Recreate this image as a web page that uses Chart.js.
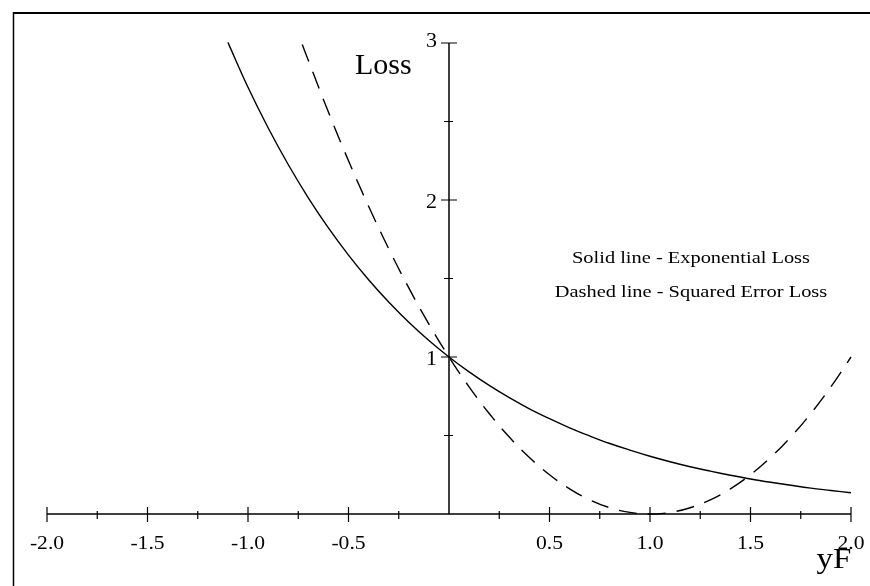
<!DOCTYPE html>
<html>
<head>
<meta charset="utf-8">
<title>Loss functions</title>
<script src="https://cdn.jsdelivr.net/npm/chart.js@4/dist/chart.umd.min.js"></script>
<style>
    body { margin: 0; background: #fff; }
    #wrap { width: 870px; height: 586px; }
</style>
</head>
<body>
<div id="wrap"><canvas id="lossChart" width="870" height="586"></canvas></div>
<script>
/*******************  Data *********************/
const expX = [-1.1, -1.0, -0.9, -0.8, -0.7, -0.6, -0.5, -0.4, -0.3, -0.2, -0.1, 0.0,
              0.1, 0.2, 0.3, 0.4, 0.5, 0.6, 0.7, 0.8, 0.9, 1.0,
              1.1, 1.2, 1.3, 1.4, 1.5, 1.6, 1.7, 1.8, 1.9, 2.0];
const expLoss = [3.004, 2.718, 2.460, 2.226, 2.014, 1.822, 1.649, 1.492, 1.350, 1.221, 1.105, 1.000,
                 0.905, 0.819, 0.741, 0.670, 0.607, 0.549, 0.497, 0.449, 0.407, 0.368,
                 0.333, 0.301, 0.273, 0.247, 0.223, 0.202, 0.183, 0.165, 0.150, 0.135];

const sqX = [-0.73, -0.7, -0.6, -0.5, -0.4, -0.3, -0.2, -0.1, 0.0,
             0.1, 0.2, 0.3, 0.4, 0.5, 0.6, 0.7, 0.8, 0.9, 1.0,
             1.1, 1.2, 1.3, 1.4, 1.5, 1.6, 1.7, 1.8, 1.9, 2.0];
const sqLoss = [2.99, 2.89, 2.56, 2.25, 1.96, 1.69, 1.44, 1.21, 1.00,
                0.81, 0.64, 0.49, 0.36, 0.25, 0.16, 0.09, 0.04, 0.01, 0.00,
                0.01, 0.04, 0.09, 0.16, 0.25, 0.36, 0.49, 0.64, 0.81, 1.00];

const xTickLabels = ['-2.0', '-1.5', '-1.0', '-0.5', '0.5', '1.0', '1.5', '2.0'];
const xMajor = [-2.0, -1.5, -1.0, -0.5, 0.5, 1.0, 1.5, 2.0];
const xMinor = [-1.75, -1.25, -0.75, -0.25, 0.25, 0.75, 1.25, 1.75];
const yTickLabels = ['1', '2', '3'];
const yMajor = [1, 2, 3];
const yMinor = [0.5, 1.5, 2.5];

const notes = ['Solid line - Exponential Loss', 'Dashed line - Squared Error Loss'];

/*******************  helpers *********************/
const serif = '"Liberation Serif", "Times New Roman", serif';

function toPoints(xs, ys) {
    return xs.map((x, i) => ({ x: x, y: ys[i] }));
}

// canvas text, stretched sideways a bit like the original
function wideText(ctx, text, x, y, size, stretch, align) {
    ctx.save();
    ctx.font = size + 'px ' + serif;
    ctx.textAlign = align;
    ctx.textBaseline = 'alphabetic';
    ctx.translate(x, y);
    ctx.scale(stretch, 1);
    ctx.fillText(text, 0, 0);
    ctx.restore();
}

/*******************  axes + text plugin *********************/
const crossAxes = {
    id: 'crossAxes',
    beforeDatasetsDraw(chart) {
        const ctx = chart.ctx;
        const xs = chart.scales.x;
        const ys = chart.scales.y;
        const x0 = xs.getPixelForValue(0);
        const y0 = ys.getPixelForValue(0);

        ctx.save();
        ctx.strokeStyle = '#000';

        // frame (top + left only)
        ctx.lineWidth = 2;
        ctx.beginPath();
        ctx.moveTo(13, 13);
        ctx.lineTo(870, 13);
        ctx.stroke();
        ctx.lineWidth = 1.5;
        ctx.beginPath();
        ctx.moveTo(13.5, 12);
        ctx.lineTo(13.5, 586);
        ctx.stroke();

        // axes
        ctx.lineWidth = 1.5;
        ctx.beginPath();
        ctx.moveTo(xs.getPixelForValue(-2), y0);
        ctx.lineTo(xs.getPixelForValue(2), y0);
        ctx.moveTo(x0, y0);
        ctx.lineTo(x0, ys.getPixelForValue(3));
        ctx.stroke();

        // ticks
        ctx.lineWidth = 1.2;
        ctx.beginPath();
        xMajor.forEach(v => {
            const px = xs.getPixelForValue(v);
            ctx.moveTo(px, y0 - 7);
            ctx.lineTo(px, y0 + 8);
        });
        xMinor.forEach(v => {
            const px = xs.getPixelForValue(v);
            ctx.moveTo(px, y0 - 3);
            ctx.lineTo(px, y0 + 5);
        });
        yMajor.forEach(v => {
            const py = ys.getPixelForValue(v);
            ctx.moveTo(x0 - 8, py);
            ctx.lineTo(x0 + 8, py);
        });
        yMinor.forEach(v => {
            const py = ys.getPixelForValue(v);
            ctx.moveTo(x0 - 5, py);
            ctx.lineTo(x0 + 4, py);
        });
        ctx.stroke();
        ctx.restore();
    },
    afterDraw(chart) {
        const ctx = chart.ctx;
        const xs = chart.scales.x;
        const ys = chart.scales.y;
        const x0 = xs.getPixelForValue(0);
        const y0 = ys.getPixelForValue(0);
        ctx.save();
        ctx.fillStyle = '#000';

        xMajor.forEach((v, i) => {
            wideText(ctx, xTickLabels[i], xs.getPixelForValue(v), y0 + 35, 18, 1.2, 'center');
        });
        yMajor.forEach((v, i) => {
            let py = ys.getPixelForValue(v) + 8;
            if (v === 3) py -= 4;   // top label sits a little high
            wideText(ctx, yTickLabels[i], x0 - 12, py, 20, 1.1, 'right');
        });

        // axis names
        wideText(ctx, 'Loss', 355, 74, 30, 1, 'left');
        wideText(ctx, 'yF', 834, 568, 30, 1.1, 'center');

        // notes in the middle right
        wideText(ctx, notes[0], 691, 263, 17, 1.2, 'center');
        wideText(ctx, notes[1], 691, 297, 17, 1.2, 'center');

        ctx.restore();
    }
};

/*******************  chart *********************/
const lossCanvas = document.getElementById('lossChart');

const lossChart = new Chart(lossCanvas, {
    type: 'scatter',
    data: {
        datasets: [
            {
                label: 'Exponential Loss',
                data: toPoints(expX, expLoss),
                showLine: true,
                borderColor: '#000',
                borderWidth: 1.4,
                pointRadius: 0,
                tension: 0.4,
                clip: false
            },
            {
                label: 'Squared Error Loss',
                data: toPoints(sqX, sqLoss),
                showLine: true,
                borderColor: '#000',
                borderWidth: 1.4,
                borderDash: [18, 11],
                pointRadius: 0,
                tension: 0.4,
                clip: false
            }
        ]
    },
    options: {
        responsive: false,
        animation: false,
        layout: { padding: { left: 47, right: 19, top: 43, bottom: 72 } },
        plugins: {
            legend: { display: false },
            tooltip: { enabled: false }
        },
        scales: {
            x: { type: 'linear', min: -2, max: 2, display: false },
            y: { type: 'linear', min: 0, max: 3, display: false }
        }
    },
    plugins: [crossAxes]
});
</script>
</body>
</html>
